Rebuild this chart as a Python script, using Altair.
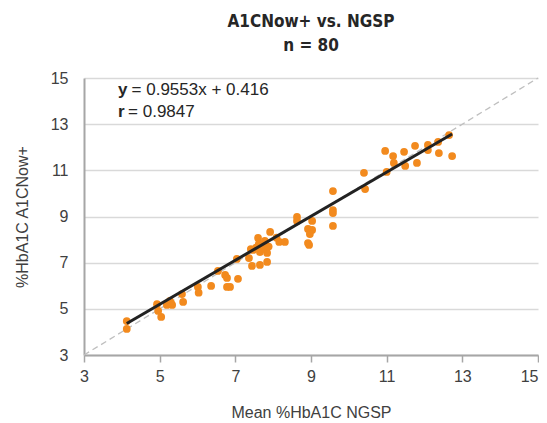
import altair as alt
import pandas as pd

# Mean %HbA1C NGSP (x) and %HbA1C A1CNow+ (y)
ngsp = [4.13, 4.13, 4.93, 4.96, 5.04, 5.19, 5.27, 5.33, 5.30, 5.59, 5.62,
        6.01, 6.03, 6.36, 6.54, 6.73, 6.78, 6.78, 6.86, 7.04, 7.07,
        7.36, 7.41, 7.47, 7.44, 7.60, 7.65, 7.65, 7.70, 7.78, 7.84, 7.84,
        7.92, 8.09, 8.16, 8.31, 7.55, 7.75, 7.62, 7.88,
        8.63, 8.63, 9.03, 8.92, 9.03, 8.97, 8.92, 8.95,
        9.58, 9.58, 9.58, 9.58, 10.40, 10.43,
        11.00, 10.96, 11.17, 11.19, 11.46, 11.49, 11.75, 11.80,
        12.09, 12.09, 12.36, 12.38, 12.65, 12.73]
a1cnow = [4.47, 4.13, 5.20, 4.91, 4.65, 5.17, 5.34, 5.17, 5.25, 5.64, 5.30,
          5.95, 5.70, 5.99, 6.64, 6.47, 6.34, 5.95, 5.95, 7.16, 6.30,
          7.20, 7.59, 7.55, 6.86, 8.07, 7.46, 6.90, 7.72, 7.94, 7.42, 7.03,
          8.33, 8.08, 7.90, 7.90, 7.65, 7.60, 7.80, 7.70,
          8.98, 8.81, 8.81, 8.46, 8.42, 8.24, 7.85, 7.77,
          10.10, 9.28, 9.15, 8.59, 10.89, 10.19,
          10.93, 11.84, 11.62, 11.32, 11.80, 11.19, 12.06, 11.32,
          12.10, 11.88, 12.23, 11.75, 12.53, 11.62]

slope = 0.9553
intercept = 0.416
axis_ticks = [3, 5, 7, 9, 11, 13, 15]
identity_ends = [3, 15]
title_lines = ["A1CNow+ vs. NGSP", "n = 80"]
bold_letters = ["y", "r"]
rest_texts = ["= 0.9553x + 0.416", "= 0.9847"]
label_pos_x = [3.9, 3.9]
label_pos_y = [14.48, 13.52]

FONT = "Liberation Sans"
TITLE_FONT = "DejaVu Sans Condensed, Roboto Condensed, Liberation Sans Narrow, Liberation Sans, sans-serif"

pts = pd.DataFrame({"x": ngsp, "y": a1cnow})
ident = pd.DataFrame({"x": identity_ends, "y": identity_ends})
fx = [min(ngsp), max(ngsp)]
fit = pd.DataFrame({"x": fx, "y": [slope * v + intercept for v in fx]})
lab = pd.DataFrame({"x": label_pos_x, "y": label_pos_y,
                    "bold": bold_letters, "rest": rest_texts})

xs = alt.Scale(domain=[3, 15], nice=False, zero=False)
ys = alt.Scale(domain=[3, 15], nice=False, zero=False)

xaxis = alt.Axis(values=axis_ticks, grid=False, title="Mean %HbA1C NGSP",
                 labelFlush=False,
                 labelAlign=alt.condition("datum.value == 15", alt.value("right"),
                                          alt.value("center")),
                 domainColor="#a6a6a6", domainWidth=2,
                 tickColor="#a6a6a6", tickWidth=1.5, tickSize=7,
                 labelFontSize=16, labelFont=FONT, labelColor="#404040",
                 labelPadding=6, titleFont=FONT, titleFontSize=16,
                 titleFontWeight="normal", titleColor="#404040", titlePadding=20)
yaxis = alt.Axis(values=axis_ticks, grid=True, gridColor="#d9d9d9", gridWidth=1.5,
                 title="%HbA1C A1CNow+", ticks=False, labelFlush=False,
                 domainColor="#a6a6a6", domainWidth=2, labelFontSize=16,
                 labelFont=FONT, labelColor="#404040", labelPadding=16,
                 titleFont=FONT, titleFontSize=16, titleFontWeight="normal",
                 titleColor="#404040", titlePadding=20)

ident_line = alt.Chart(ident).mark_line(color="#bfbfbf", strokeDash=[6, 4],
                                        strokeWidth=1.3).encode(
    x=alt.X("x:Q", scale=xs, axis=xaxis), y=alt.Y("y:Q", scale=ys, axis=yaxis))

points = alt.Chart(pts).mark_circle(size=60, color="#f28a1e", opacity=1).encode(
    x=alt.X("x:Q", scale=xs), y=alt.Y("y:Q", scale=ys))

fit_line = alt.Chart(fit).mark_line(color="#222222", strokeWidth=3).encode(
    x=alt.X("x:Q", scale=xs), y=alt.Y("y:Q", scale=ys))

bold_txt = alt.Chart(lab).mark_text(font=FONT, fontSize=17, fontWeight="bold",
                                    align="left", baseline="middle",
                                    color="#262626").encode(
    x=alt.X("x:Q", scale=xs), y=alt.Y("y:Q", scale=ys), text="bold:N")

rest_y = alt.Chart(lab.iloc[[0]]).mark_text(font=FONT, fontSize=17, align="left",
                                            baseline="middle", color="#262626",
                                            dx=13.5).encode(
    x=alt.X("x:Q", scale=xs), y=alt.Y("y:Q", scale=ys), text="rest:N")
rest_r = alt.Chart(lab.iloc[[1]]).mark_text(font=FONT, fontSize=17, align="left",
                                            baseline="middle", color="#262626",
                                            dx=10).encode(
    x=alt.X("x:Q", scale=xs), y=alt.Y("y:Q", scale=ys), text="rest:N")

chart = alt.layer(ident_line, points, fit_line, bold_txt, rest_y, rest_r).properties(
    width=454, height=277,
    title=alt.TitleParams(title_lines, anchor="middle", font=TITLE_FONT,
                          fontSize=17, fontWeight="bold", color="#262626",
                          offset=15, lineHeight=24),
    autosize=alt.AutoSizeParams(type="none"),
    padding={"left": 76, "top": 70, "right": 1, "bottom": 70},
).configure_view(stroke=None)

chart.save("out.html", embed_options={"renderer": "svg", "actions": False})
